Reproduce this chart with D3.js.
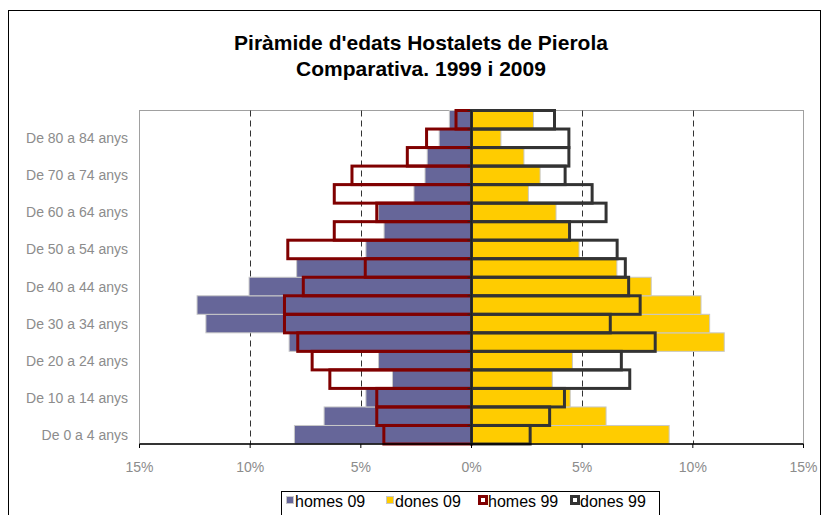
<!DOCTYPE html>
<html>
<head>
<meta charset="utf-8">
<script src="https://cdn.jsdelivr.net/npm/d3@7"></script>
<style>
    body { margin: 0; background: #fff; }
    svg text { font-family: "Liberation Sans", Arial, sans-serif; }
    .yLabel, .xLabel { fill: #8c8c8c; font-size: 14px; }
    .legendText { fill: #000; font-size: 16px; }
    .title { font-weight: bold; font-size: 21px; fill: #000; }
</style>
</head>
<body>
<div id="container"></div>
<script>
// age groups, bottom to top
var ageGroups = ['De 0 a 4 anys', 'De 5 a 9 anys', 'De 10 a 14 anys', 'De 15 a 19 anys', 'De 20 a 24 anys',
    'De 25 a 29 anys', 'De 30 a 34 anys', 'De 35 a 39 anys', 'De 40 a 44 anys', 'De 45 a 49 anys',
    'De 50 a 54 anys', 'De 55 a 59 anys', 'De 60 a 64 anys', 'De 65 a 69 anys', 'De 70 a 74 anys',
    'De 75 a 79 anys', 'De 80 a 84 anys', 'De 85 anys i més'];

// percentages of total population
var homes09 = [8.0, 6.66, 4.77, 3.57, 4.2, 8.24, 12.0, 12.4, 10.05, 7.9, 4.77, 3.95, 4.2, 2.6, 2.1, 2.0, 1.46, 1.0];
var dones09 = [8.93, 6.08, 4.46, 3.65, 4.56, 11.42, 10.76, 10.37, 8.12, 6.57, 4.86, 4.38, 3.82, 2.57, 3.1, 2.37, 1.33, 2.8];
var homes99 = [3.96, 4.28, 4.28, 6.4, 7.2, 7.85, 8.45, 8.45, 7.6, 4.8, 8.3, 6.2, 4.28, 6.2, 5.4, 2.9, 2.03, 0.7];
var dones99 = [2.65, 3.53, 4.2, 7.15, 6.77, 8.3, 6.27, 7.62, 7.1, 6.95, 6.58, 4.43, 6.08, 5.45, 4.23, 4.4, 4.4, 3.75];

var xTicks = [-15, -10, -5, 0, 5, 10, 15];
var gridTicks = [-10, -5, 5, 10];

var seriesNames = ['homes 09', 'dones 09', 'homes 99', 'dones 99'];

let width = 822, height = 515;

let svg = d3.select('#container')
    .append('svg')
    .attr('width', width)
    .attr('height', height);

// outer chart frame
svg.append('rect')
    .attr('x', 8.5)
    .attr('y', 10.5)
    .attr('width', 812)
    .attr('height', 520)
    .style('fill', 'none')
    .style('stroke', '#000')
    .style('stroke-width', 1);

// title
svg.append('text')
    .attr('class', 'title')
    .attr('x', 421)
    .attr('y', 50)
    .attr('text-anchor', 'middle')
    .text("Piràmide d'edats Hostalets de Pierola");
svg.append('text')
    .attr('class', 'title')
    .attr('x', 421)
    .attr('y', 76)
    .attr('text-anchor', 'middle')
    .text('Comparativa. 1999 i 2009');

let plot = { left: 139.5, right: 803.5, top: 110.5, bottom: 444 };

let x = d3.scaleLinear()
    .domain([-15, 15])
    .range([plot.left, plot.right]);

let y = d3.scaleBand()
    .domain(ageGroups)
    .range([plot.bottom, plot.top])
    .padding(0);

// plot area border
svg.append('rect')
    .attr('x', plot.left)
    .attr('y', plot.top)
    .attr('width', plot.right - plot.left)
    .attr('height', plot.bottom - plot.top)
    .style('fill', 'none')
    .style('stroke', '#a0a0a0');

// dashed gridlines
svg.selectAll('.grid')
    .data(gridTicks)
    .enter()
    .append('line')
    .attr('class', 'grid')
    .attr('x1', function(d){ return Math.round(x(d)) + 0.5; })
    .attr('x2', function(d){ return Math.round(x(d)) + 0.5; })
    .attr('y1', plot.top)
    .attr('y2', plot.bottom)
    .style('stroke', '#333')
    .style('stroke-dasharray', '6,4');

function bars(values, cls, left, fill, stroke, sw) {
    svg.selectAll('.' + cls)
        .data(values)
        .enter()
        .append('rect')
        .attr('class', cls)
        .attr('x', function(d){ return left ? x(-d) : x(0); })
        .attr('width', function(d){ return x(d) - x(0); })
        .attr('y', function(d, i){ return y(ageGroups[i]); })
        .attr('height', y.bandwidth())
        .style('fill', fill)
        .style('stroke', stroke)
        .style('stroke-width', sw);
}

// 2009 filled bars, then 1999 outlines on top
bars(homes09, 'h09', true, '#666699', '#c8c8c8', 1);
bars(dones09, 'd09', false, '#ffcc00', '#c8c8c8', 1);
bars(homes99, 'h99', true, 'none', '#800000', 3);
bars(dones99, 'd99', false, 'none', '#333333', 3);

// vertical axis at 0 with small ticks
svg.append('line')
    .attr('x1', x(0)).attr('x2', x(0))
    .attr('y1', plot.top).attr('y2', plot.bottom)
    .style('stroke', '#222')
    .style('stroke-width', 1.5);

svg.selectAll('.yTick')
    .data(ageGroups)
    .enter()
    .append('line')
    .attr('class', 'yTick')
    .attr('x1', x(0) - 4).attr('x2', x(0))
    .attr('y1', function(d){ return y(d); })
    .attr('y2', function(d){ return y(d); })
    .style('stroke', '#222');

// x axis
let xAxis = svg.append('g')
    .attr('transform', `translate(0, ${plot.bottom})`);

xAxis.append('line')
    .attr('x1', plot.left).attr('x2', plot.right)
    .style('stroke', '#000')
    .style('stroke-width', 1.5);

xAxis.selectAll('.xTick')
    .data(xTicks)
    .enter()
    .append('line')
    .attr('class', 'xTick')
    .attr('x1', function(d){ return x(d); })
    .attr('x2', function(d){ return x(d); })
    .attr('y1', 0).attr('y2', 4)
    .style('stroke', '#000');

xAxis.selectAll('.xLabel')
    .data(xTicks)
    .enter()
    .append('text')
    .attr('class', 'xLabel')
    .attr('x', function(d){ return x(d); })
    .attr('y', 28)
    .attr('text-anchor', 'middle')
    .text(function(d){ return Math.abs(d) + '%'; });

// y labels, every other group
svg.selectAll('.yLabel')
    .data(ageGroups.filter(function(d, i){ return i % 2 === 0; }))
    .enter()
    .append('text')
    .attr('class', 'yLabel')
    .attr('x', 128)
    .attr('y', function(d){ return y(d) + y.bandwidth() / 2 + 5; })
    .attr('text-anchor', 'end')
    .text(function(d){ return d; });

// legend
let legend = svg.append('g');
legend.append('rect')
    .attr('x', 281.5)
    .attr('y', 491.5)
    .attr('width', 378)
    .attr('height', 40)
    .style('fill', '#fff')
    .style('stroke', '#000');

let legendX = [285, 385, 478, 570];
let swatch = [
    { fill: '#666699', stroke: '#c8c8c8', sw: 1 },
    { fill: '#ffcc00', stroke: '#c8c8c8', sw: 1 },
    { fill: '#fff', stroke: '#800000', sw: 3 },
    { fill: '#fff', stroke: '#333333', sw: 3 }
];

seriesNames.forEach(function(name, i){
    legend.append('rect')
        .attr('x', legendX[i] + 1.5)
        .attr('y', 496.5)
        .attr('width', 7)
        .attr('height', 7)
        .style('fill', swatch[i].fill)
        .style('stroke', swatch[i].stroke)
        .style('stroke-width', swatch[i].sw);
    legend.append('text')
        .attr('class', 'legendText')
        .attr('x', legendX[i] + 10)
        .attr('y', 507)
        .text(name);
});
</script>
</body>
</html>
